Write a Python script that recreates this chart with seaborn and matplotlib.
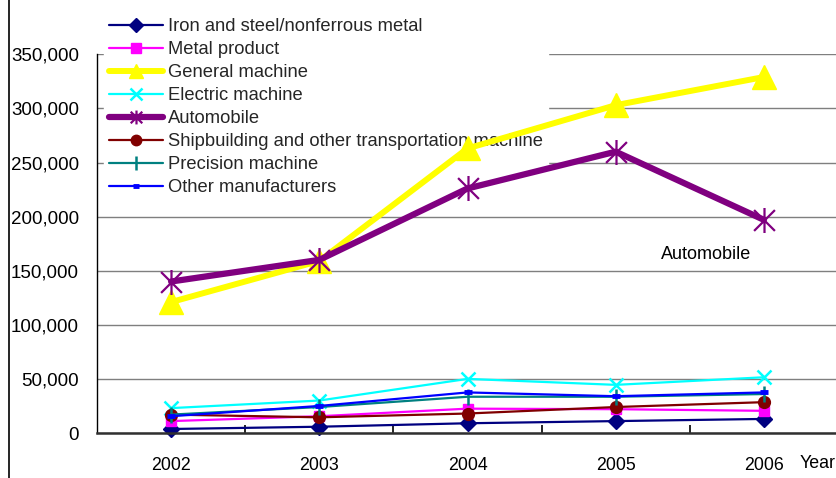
import matplotlib
matplotlib.use("Agg")
import matplotlib.pyplot as plt
import seaborn as sns
import pandas as pd
from matplotlib.path import Path
from matplotlib.patches import Rectangle
from matplotlib.ticker import FuncFormatter

years = ["2002", "2003", "2004", "2005", "2006"]

iron_steel = [3700, 5800, 9000, 11000, 13000]
metal_product = [11000, 15500, 22500, 22000, 20500]
general_machine = [121000, 159000, 263000, 303000, 329000]
electric_machine = [23000, 30000, 50000, 44500, 51500]
automobile = [140000, 160000, 226000, 260000, 197000]
shipbuilding = [17000, 14500, 18000, 24000, 28500]
precision_machine = [17000, 24000, 33500, 33500, 36000]
other_manufacturers = [15500, 25000, 37500, 34000, 37500]

series_names = [
    "Iron and steel/nonferrous metal",
    "Metal product",
    "General machine",
    "Electric machine",
    "Automobile",
    "Shipbuilding and other transportation machine",
    "Precision machine",
    "Other manufacturers",
]
series_values = [iron_steel, metal_product, general_machine, electric_machine,
                 automobile, shipbuilding, precision_machine, other_manufacturers]

# asterisk marker: an X crossed by a vertical stroke
star = Path(
    [(-0.5, -0.5), (0.5, 0.5), (-0.5, 0.5), (0.5, -0.5), (0, -0.6), (0, 0.6)],
    [Path.MOVETO, Path.LINETO, Path.MOVETO, Path.LINETO, Path.MOVETO, Path.LINETO],
)

styles = [
    dict(color="#000080", marker="D", ms=8, lw=1.6, mec="#000080", mfc="#000080", leg_ms=7),
    dict(color="#FF00FF", marker="s", ms=7.5, lw=1.6, mec="#FF00FF", mfc="#FF00FF", leg_ms=6.5),
    dict(color="#FFFF00", marker="^", ms=17, lw=4.3, mec="#FFFF00", mfc="#FFFF00", leg_ms=10),
    dict(color="#00FFFF", marker="x", ms=10, lw=1.6, mec="#00FFFF", mew=1.8, leg_ms=8.5),
    dict(color="#800080", marker=star, ms=18, lw=4.5, mec="#800080", mfc="none", mew=1.6, leg_ms=10),
    dict(color="#800000", marker="o", ms=8.5, lw=1.6, mec="#800000", mfc="#800000", leg_ms=7.5),
    dict(color="#008080", marker="|", ms=12, lw=1.6, mec="#008080", mew=1.8, leg_ms=10),
    dict(color="#0000FF", marker="_", ms=6, lw=1.6, mec="#0000FF", mew=3.5, leg_ms=5),
]

sns.set_theme(style="white")
plt.rcParams["font.family"] = ["Liberation Sans", "DejaVu Sans"]

W, H = 836, 478
fig = plt.figure(figsize=(W / 100, H / 100), dpi=100)
fig.patch.set_facecolor("white")

left, right, bottom, top = 97, 838, 433, 54.3
ax = fig.add_axes([left / W, (H - bottom) / H, (right - left) / W, (bottom - top) / H])
ax.set_facecolor("white")

x = list(range(len(years)))
for name, vals, st in zip(series_names, series_values, styles):
    df = pd.DataFrame({"x": x, "value": vals})
    sns.lineplot(data=df, x="x", y="value", ax=ax, label=name,
                 color=st["color"], marker=st["marker"], markersize=st["ms"],
                 linewidth=st["lw"], markeredgecolor=st["mec"],
                 markerfacecolor=st.get("mfc", st["color"]),
                 markeredgewidth=st.get("mew", 1.0), clip_on=False)

ax.set_xlim(-0.5, 4.5)
ax.set_ylim(0, 350000)
ax.set_xlabel("")
ax.set_ylabel("")

ax.set_yticks(range(0, 350001, 50000))
ax.yaxis.set_major_formatter(FuncFormatter(lambda v, p: f"{int(v):,}"))
ax.yaxis.grid(True, color="#7f7f7f", linewidth=1.0)
ax.set_axisbelow(True)
ax.tick_params(axis="y", length=0, pad=13, labelsize=13.5, colors="black")

ax.set_xticks(x)
ax.set_xticklabels(years)
ax.set_xticks([0.5, 1.5, 2.5, 3.5], minor=True)
ax.tick_params(axis="x", which="major", length=0, pad=17, labelsize=12.8, colors="black")
ax.tick_params(axis="x", which="minor", direction="in", length=6, width=1.2,
               color="black", bottom=True)

for side in ("top", "right"):
    ax.spines[side].set_visible(False)
ax.spines["left"].set_color("black")
ax.spines["left"].set_linewidth(1.0)
ax.spines["bottom"].set_color("#303030")
ax.spines["bottom"].set_linewidth(1.8)

ax.text(800 / W, (H - 464) / H, "Year", transform=fig.transFigure,
        ha="left", va="center", fontsize=12.8, color="black")

ax.text(3.61, 165000, "Automobile", ha="center", va="center",
        fontsize=13, color="black")

leg = ax.legend(loc="upper left", bbox_to_anchor=(0.0094, 1.110), frameon=True,
                fontsize=13.2, handlelength=2.9, handletextpad=0.27,
                labelspacing=0.33, borderpad=0.3, borderaxespad=0.0,
                fancybox=False)
leg.get_frame().set_facecolor("white")
leg.get_frame().set_edgecolor("white")
leg.get_frame().set_alpha(1.0)
leg.set_zorder(1)
for handle, st in zip(leg.legend_handles, styles):
    handle.set_markersize(st["leg_ms"])

# outer chart border
fig.patches.append(Rectangle((9 / W, -0.2), 1.2, 1.2 + (1 - 10 / H),
                             transform=fig.transFigure, fill=False,
                             edgecolor="black", linewidth=1.2))

fig.savefig("out.png", dpi=100, facecolor="white")
